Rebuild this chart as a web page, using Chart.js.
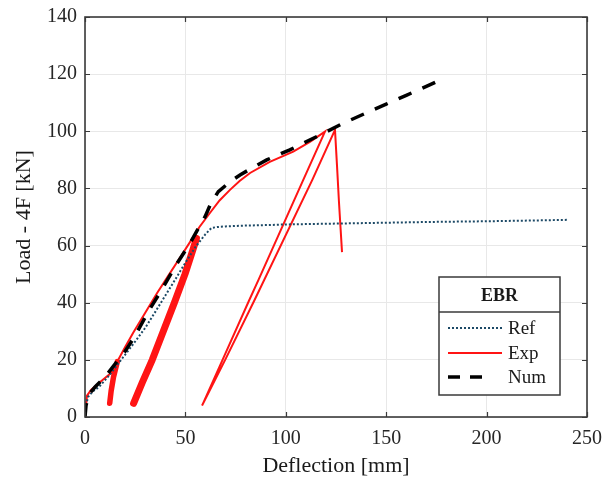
<!DOCTYPE html>
<html><head><meta charset="utf-8">
<script src="https://cdn.jsdelivr.net/npm/chart.js@4.4.0/dist/chart.umd.min.js"></script>
<style>html,body{margin:0;padding:0;background:#fff}</style>
</head><body>
<canvas id="c" width="602" height="487"></canvas>
<script>
// ---- data ----
const xTicks = [0, 50, 100, 150, 200, 250];
const yTicks = [0, 20, 40, 60, 80, 100, 120, 140];
const legendTitle = 'EBR';
const seriesNames = ['Ref', 'Exp', 'Num'];

const refX = [0, 0.5, 1.5, 4, 7, 12, 18, 24, 30, 35, 40, 45, 50, 55, 60, 63, 66, 70, 80, 92, 100, 125, 150, 175, 200, 225, 240];
const refY = [0, 4, 7, 9, 10.5, 14.5, 20, 25.5, 31.2, 36.8, 42.5, 48.2, 54, 59.5, 64, 66.2, 66.5, 66.7, 67, 67.2, 67.4, 67.7, 68, 68.3, 68.5, 68.8, 69];

const numX = [0, 0.5, 2, 5, 10, 16, 20, 25, 31.5, 38.2, 44.8, 52.3, 55.6, 59.8, 62.5, 66.4, 72, 77.2, 84, 90.5, 102, 115, 128.6, 140, 150, 160, 170, 177];
const numY = [0, 4, 8, 10.5, 14, 19.5, 23, 28.5, 36.9, 44.5, 52.6, 60.8, 65, 70.1, 74.5, 78.9, 82.2, 84.7, 87.5, 90, 93.5, 98, 102.8, 106.4, 109.5, 112.6, 115.7, 118];

// Exp: envelope, unloading, reloading, final drop
const expX = [0, 0.5, 1, 3, 8, 12.8, 16.1, 20, 24, 30, 36, 42, 48, 53, 57, 62.2, 67, 72.2, 77, 82.2, 92, 103.7, 112, 119.5,
              108.7, 86.4, 81.6, 68.5, 58.3,
              69.8, 84.2, 113.2, 124.5,
              125.5, 126.5, 128];
const expY = [0, 4, 7.5, 9.5, 12.5, 15.3, 19.4, 24.5, 29.5, 36.5, 43.5, 50, 56.5, 62, 66.5, 71.4, 75.8, 79.5, 82.6, 85.4, 89.3, 92.9, 96.3, 99.9,
              83, 48, 40.6, 20, 4,
              20, 40.6, 83, 100.5,
              88, 75, 57.7];
// Exp cyclic bands
const expBand1X = [16.1, 14.2, 13.0, 12.3];
const expBand1Y = [19.4, 14, 9, 4.8];
const expBand2X = [55.5, 53.5, 49.8, 44.5, 39, 33.5, 28.5, 24.2];
const expBand2Y = [62.5, 58, 50, 40, 30, 20, 12, 4.8];

const toPts = (xs, ys) => xs.map((v, i) => ({x: v, y: ys[i]}));

const FONT = "'Liberation Serif', 'Times New Roman', serif";
const REF_COLOR = '#1c4966';
const EXP_COLOR = '#ff1414';

const framePlugin = {
  id: 'frame',
  afterDatasetsDraw(chart) {
    const {ctx, chartArea: a, scales: {x, y}} = chart;
    ctx.save();
    ctx.strokeStyle = '#3a3a3a';
    ctx.lineWidth = 1.2;
    ctx.beginPath();
    xTicks.forEach(v => {
      const px = Math.round(x.getPixelForValue(v)) + 0.5;
      ctx.moveTo(px, a.bottom); ctx.lineTo(px, a.bottom - 5);
      ctx.moveTo(px, a.top); ctx.lineTo(px, a.top + 5);
    });
    yTicks.forEach(v => {
      const py = Math.round(y.getPixelForValue(v)) + 0.5;
      ctx.moveTo(a.left, py); ctx.lineTo(a.left + 5, py);
      ctx.moveTo(a.right, py); ctx.lineTo(a.right - 5, py);
    });
    ctx.stroke();
    ctx.lineWidth = 1.6;
    ctx.strokeRect(a.left, a.top, a.right - a.left, a.bottom - a.top);

    // legend box
    const L = a.right - 148, T = a.bottom - 140, W = 121, H = 118;
    ctx.fillStyle = '#fff';
    ctx.fillRect(L, T, W, H);
    ctx.lineWidth = 1.5;
    ctx.strokeRect(L, T, W, H);
    ctx.beginPath(); ctx.moveTo(L, T + 35); ctx.lineTo(L + W, T + 35); ctx.stroke();
    ctx.fillStyle = '#1a1a1a';
    ctx.font = "bold 18px " + FONT;
    ctx.textAlign = 'center'; ctx.textBaseline = 'middle';
    ctx.fillText(legendTitle, L + W / 2, T + 19);
    ctx.font = "19px " + FONT;
    ctx.textAlign = 'left';
    const rows = [T + 51, T + 76, T + 100];
    ctx.save();
    ctx.strokeStyle = REF_COLOR; ctx.lineWidth = 2; ctx.setLineDash([2, 2]);
    ctx.beginPath(); ctx.moveTo(L + 9, rows[0]); ctx.lineTo(L + 63, rows[0]); ctx.stroke();
    ctx.restore();
    ctx.save();
    ctx.strokeStyle = EXP_COLOR; ctx.lineWidth = 2.2;
    ctx.beginPath(); ctx.moveTo(L + 9, rows[1]); ctx.lineTo(L + 63, rows[1]); ctx.stroke();
    ctx.restore();
    ctx.save();
    ctx.strokeStyle = '#000'; ctx.lineWidth = 3.5; ctx.setLineDash([12, 10]);
    ctx.beginPath(); ctx.moveTo(L + 9, rows[2]); ctx.lineTo(L + 43, rows[2]); ctx.stroke();
    ctx.restore();
    seriesNames.forEach((n, i) => ctx.fillText(n, L + 69, rows[i] + 1));
    ctx.restore();
  }
};

new Chart(document.getElementById('c'), {
  type: 'scatter',
  data: {
    datasets: [
      {label: 'Num', data: toPts(numX, numY), showLine: true, borderColor: '#000', borderWidth: 3.5,
       borderDash: [14, 12], pointRadius: 0, order: 0},
      {label: 'Ref', data: toPts(refX, refY), showLine: true, borderColor: REF_COLOR, borderWidth: 2,
       borderDash: [2, 2], pointRadius: 0, order: 1},
      {label: 'Exp', data: toPts(expX, expY), showLine: true, borderColor: EXP_COLOR, borderWidth: 2,
       pointRadius: 0, order: 2},
      {label: 'Exp cycles 1', data: toPts(expBand1X, expBand1Y), showLine: true, borderColor: EXP_COLOR, borderWidth: 5.5,
       borderCapStyle: 'round', borderJoinStyle: 'round', pointRadius: 0, order: 3},
      {label: 'Exp cycles 2', data: toPts(expBand2X, expBand2Y), showLine: true, borderColor: EXP_COLOR, borderWidth: 7,
       borderCapStyle: 'round', borderJoinStyle: 'round', pointRadius: 0, order: 3}
    ]
  },
  options: {
    responsive: false,
    animation: false,
    layout: {padding: {top: 17, right: 15, left: 0, bottom: 0}},
    plugins: {legend: {display: false}, tooltip: {enabled: false}},
    scales: {
      x: {
        type: 'linear', min: 0, max: 250,
        afterBuildTicks: s => { s.ticks = xTicks.map(v => ({value: v})); },
        afterFit: s => { s.height = 70; s.paddingLeft = 0; s.paddingRight = 0; },
        grid: {color: '#e8e8e8', lineWidth: 1, drawTicks: false},
        border: {display: false},
        ticks: {font: {family: FONT, size: 20}, color: '#262626', padding: 10, maxRotation: 0},
        title: {display: true, text: 'Deflection [mm]', font: {family: FONT, size: 22}, color: '#1a1a1a',
                padding: {top: 0, bottom: 8}}
      },
      y: {
        type: 'linear', min: 0, max: 140,
        afterBuildTicks: s => { s.ticks = yTicks.map(v => ({value: v})); },
        afterFit: s => { s.width = 85; s.paddingTop = 0; s.paddingBottom = 0; },
        grid: {color: '#e8e8e8', lineWidth: 1, drawTicks: false},
        border: {display: false},
        ticks: {font: {family: FONT, size: 20}, color: '#262626', padding: 8},
        title: {display: true, text: 'Load - 4F [kN]', font: {family: FONT, size: 22}, color: '#1a1a1a',
                padding: {top: 11, bottom: 0}}
      }
    }
  },
  plugins: [framePlugin]
});
</script>
</body></html>
